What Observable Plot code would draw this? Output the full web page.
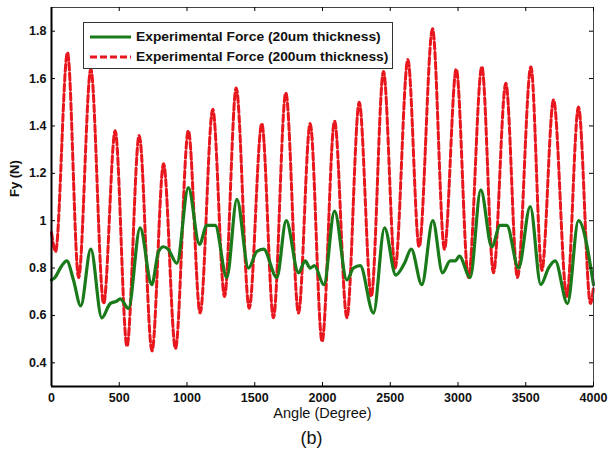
<!DOCTYPE html>
<html>
<head>
<meta charset="utf-8">
<script src="https://cdn.jsdelivr.net/npm/d3@7"></script>
<script src="https://cdn.jsdelivr.net/npm/@observablehq/plot@0.6"></script>
<style>
  body { margin: 0; background: #fff; }
  #wrap { position: relative; width: 609px; height: 457px; font-family: "Liberation Sans", Arial, sans-serif; }
  #wrap svg g[aria-label="x-axis tick label"] text,
  #wrap svg g[aria-label="y-axis tick label"] text { font-weight: bold; }
  #legend { position: absolute; left: 83px; top: 22px; width: 308px; height: 45px; border: 1px solid #333; background: #fff;
            font: bold 12px "Liberation Sans", Arial, sans-serif; color: #111; }
  #legend .row { position: absolute; left: 6px; display: flex; align-items: center; white-space: nowrap; }
  #legend svg { margin-right: 5px; }
  #legend span { display: inline-block; transform: scaleX(1.15); transform-origin: left center; }
</style>
</head>
<body>
<div id="wrap"></div>
<script>
// Experimental force, 20um thickness (green, solid)
const greenX = [0,25,76,113,162,216,290,371,433,480,507,568,654,740,790,827,860,925,1010,1092,1146,1208,1294,1368,1454,1515,1565,1663,1732,1823,1872,1909,1940,2010,2089,2180,2229,2278,2376,2458,2541,2605,2655,2733,2814,2886,2942,2979,3010,3090,3168,3249,3311,3360,3447,3533,3611,3668,3717,3808,3889,4000];
const greenY = [0.75,0.76,0.81,0.83,0.75,0.64,0.88,0.59,0.65,0.66,0.67,0.63,0.97,0.73,0.87,0.89,0.88,0.82,1.14,0.90,0.98,0.98,0.76,1.09,0.80,0.87,0.88,0.76,1.00,0.78,0.83,0.80,0.81,0.73,1.04,0.75,0.80,0.81,0.61,0.97,0.77,0.82,0.88,0.73,1.00,0.78,0.83,0.83,0.85,0.76,1.13,0.89,0.98,0.98,0.80,1.06,0.73,0.80,0.83,0.65,1.00,0.73];
// Experimental force, 200um thickness (red, dashed)
const redX = [0,30,118,200,290,385,470,557,647,742,827,915,1010,1097,1190,1277,1363,1459,1552,1638,1729,1823,1909,1997,2089,2180,2271,2360,2450,2536,2630,2713,2812,2900,2987,3077,3176,3262,3353,3439,3538,3619,3705,3803,3889,3978,4000];
const redY = [0.95,0.87,1.71,0.76,1.64,0.65,1.38,0.47,1.36,0.45,1.24,0.46,1.38,0.61,1.47,0.68,1.56,0.63,1.41,0.59,1.54,0.61,1.41,0.49,1.42,0.59,1.50,0.68,1.63,0.80,1.68,0.89,1.81,0.88,1.64,0.76,1.65,0.78,1.58,0.76,1.65,0.79,1.51,0.68,1.48,0.65,0.72];

const xTicks = [0,500,1000,1500,2000,2500,3000,3500,4000];
const yTicks = [0.4,0.6,0.8,1,1.2,1.4,1.6,1.8];
const xDomain = [0, 4000];
const yDomain = [0.3, 1.9];
const seriesNames = ["Experimental Force (20um thickness)", "Experimental Force (200um thickness)"];
const xTitle = "Angle (Degree)";
const yTitle = "Fy (N)";
const caption = "(b)";

const GREEN = "#1a7a1a";
const RED = "#e8161d";

const green = greenX.map((x, i) => ({x, y: greenY[i]}));
const red = redX.map((x, i) => ({x, y: redY[i]}));

const W = 609, H = 457;
const mL = 51, mR = 16, mT = 7, mB = 71;
const innerW = W - mL - mR, innerH = H - mT - mB;

const chart = Plot.plot({
  width: W, height: H,
  marginLeft: mL, marginRight: mR, marginTop: mT, marginBottom: mB,
  style: {fontFamily: "'Liberation Sans', Arial, sans-serif", fontSize: "12.5px", color: "#111", background: "#fff"},
  x: {domain: xDomain, ticks: xTicks},
  y: {domain: yDomain, ticks: yTicks},
  marks: [
    Plot.line(red, {x: "x", y: "y", stroke: RED, strokeWidth: 3, strokeDasharray: "7,3", curve: "monotone-x"}),
    Plot.line(green, {x: "x", y: "y", stroke: GREEN, strokeWidth: 3.2, curve: "monotone-x"}),
    Plot.frame({stroke: "#444", strokeWidth: 1}),
    Plot.ruleY([yDomain[0]], {stroke: "#000", strokeWidth: 2}),
    Plot.ruleX([xDomain[0]], {stroke: "#000", strokeWidth: 2}),
    // inward ticks
    Plot.tickX(xTicks, {x: d => d, insetTop: innerH - 4, stroke: "#000"}),
    Plot.tickX(xTicks, {x: d => d, insetBottom: innerH - 4, stroke: "#000"}),
    Plot.tickY(yTicks, {y: d => d, insetRight: innerW - 4, stroke: "#000"}),
    Plot.tickY(yTicks, {y: d => d, insetLeft: innerW - 4, stroke: "#000"}),
    Plot.axisX(xTicks, {tickSize: 0, tickPadding: 7, fontSize: 12.5, label: null, tickFormat: d => String(d)}),
    Plot.axisY(yTicks, {tickSize: 0, tickPadding: 5, fontSize: 12.5, label: null, tickFormat: d => String(d)}),
    Plot.text([xTitle], {frameAnchor: "bottom", dy: 31, fontSize: 14.5, fontWeight: "normal", fill: "#111", text: d => d}),
    Plot.text([yTitle], {frameAnchor: "left", dx: -37, rotate: -90, fontSize: 13, fontWeight: "bold", fill: "#111", text: d => d}),
    Plot.text([caption], {frameAnchor: "bottom", dy: 57, dx: -11, fontSize: 18, fontWeight: "normal", fill: "#111", text: d => d})
  ]
});

const wrap = document.getElementById("wrap");
wrap.appendChild(chart);

const legend = document.createElement("div");
legend.id = "legend";
const styles = [{color: GREEN, dash: null}, {color: RED, dash: "7,3"}];
seriesNames.forEach((name, i) => {
  const row = document.createElement("div");
  row.className = "row";
  row.style.top = (i === 0 ? 7 : 27) + "px";
  row.innerHTML = `<svg width="41" height="8"><line x1="0" x2="41" y1="4" y2="4" stroke="${styles[i].color}" stroke-width="3" ${styles[i].dash ? `stroke-dasharray="${styles[i].dash}"` : ""}/></svg><span>${name}</span>`;
  legend.appendChild(row);
});
wrap.appendChild(legend);
</script>
</body>
</html>
